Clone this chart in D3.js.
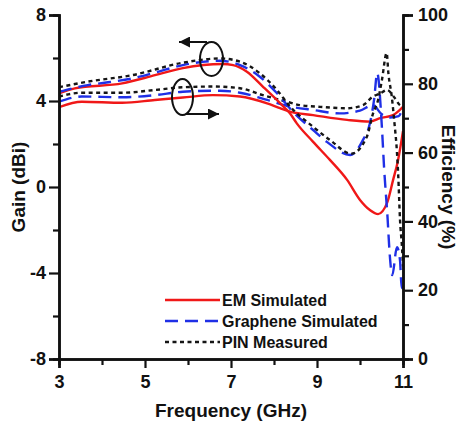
<!DOCTYPE html>
<html>
<head>
<meta charset="utf-8">
<script src="https://cdn.jsdelivr.net/npm/d3@7"></script>
<style>
  html, body { margin: 0; padding: 0; background: #fff; }
  svg { display: block; }
  text { font-family: "Liberation Sans", Arial, sans-serif; font-weight: bold; fill: #111; }
</style>
</head>
<body>
<svg id="chart" width="462" height="426"></svg>
<script>
// Tick values
const freqTicks = [3, 5, 7, 9, 11];
const freqMinor = [4, 6, 8, 10];
const gainTicks = [-8, -4, 0, 4, 8];
const gainMinor = [-6, -2, 2, 6];
const effTicks = [0, 20, 40, 60, 80, 100];
const effMinor = [10, 30, 50, 70, 90];

// Gain (dBi) versus frequency (GHz)
const emGainF  = [3.0, 3.37, 4.47, 5.23, 5.88, 6.8, 7.05, 7.37, 7.74, 8.14, 8.37, 8.53, 8.91, 9.3, 9.7, 10.0, 10.23, 10.42, 10.63, 10.77, 10.88, 11.0];
const emGain   = [4.36, 4.59, 4.82, 5.2, 5.53, 5.72, 5.67, 5.36, 4.67, 3.9, 3.43, 2.96, 2.1, 1.26, 0.33, -0.6, -1.07, -1.26, -0.74, 0.33, 1.2, 2.6];

const grGainF  = [3.0, 3.67, 4.14, 4.7, 5.23, 5.88, 6.74, 7.21, 7.67, 8.07, 8.44, 8.91, 9.23, 9.77, 10.07, 10.23, 10.33, 10.4, 10.51, 10.56, 10.64, 10.69, 10.75, 10.86, 10.93, 10.97, 11.0];
const grGain   = [4.43, 4.74, 4.87, 5.05, 5.32, 5.67, 5.87, 5.67, 5.13, 4.36, 3.5, 2.65, 2.1, 1.49, 2.19, 2.96, 4.1, 5.3, 2.75, 0.9, -1.4, -3.1, -4.1, -2.8, -3.4, -4.7, -4.3];

const pinGainF = [3.0, 3.67, 4.7, 5.88, 6.74, 7.21, 7.67, 8.07, 8.37, 8.91, 9.3, 9.8, 10.16, 10.3, 10.42, 10.51, 10.62, 10.66, 10.74, 10.8, 10.86, 10.89, 10.93, 10.98, 11.0];
const pinGain  = [4.64, 4.9, 5.2, 5.78, 5.98, 5.83, 5.29, 4.51, 3.75, 2.8, 2.19, 1.55, 2.34, 3.4, 4.05, 4.98, 6.23, 5.3, 4.19, 3.0, 1.6, 0.5, -1.5, -2.9, -3.7];

// Radiation efficiency (%) versus frequency (GHz)
const emEffF   = [3.0, 3.53, 4.47, 5.23, 5.88, 6.58, 7.21, 7.84, 8.14, 8.37, 8.91, 9.7, 10.23, 10.47, 10.77, 11.0];
const emEff    = [73.2, 74.8, 74.5, 75.3, 76.0, 76.7, 76.3, 74.3, 72.9, 71.9, 70.9, 69.5, 69.0, 70.0, 70.9, 73.3];

const grEffF   = [3.0, 3.53, 4.47, 5.23, 5.88, 6.74, 7.21, 7.84, 8.3, 8.91, 9.53, 10.0, 10.3, 10.5, 10.7, 10.9, 11.0];
const grEff    = [74.8, 76.3, 76.1, 76.7, 77.7, 78.0, 77.4, 75.3, 73.6, 72.4, 71.4, 72.2, 73.8, 71.2, 70.2, 70.6, 73.3];

const pinEffF  = [3.0, 3.53, 4.47, 5.23, 5.88, 6.58, 7.21, 7.74, 8.3, 8.6, 9.07, 9.7, 10.07, 10.3, 10.47, 10.63, 10.8, 10.93, 11.0];
const pinEff   = [76.3, 77.4, 77.4, 78.2, 79.0, 79.2, 78.7, 76.7, 74.8, 73.8, 73.3, 72.9, 73.8, 76.3, 77.2, 78.2, 76.0, 73.8, 73.5];

const seriesNames = ["EM Simulated", "Graphene Simulated", "PIN Measured"];

// Line styles per series
const styles = [
  { color: "#f01818", dash: null,    width: 2.4 },
  { color: "#1f2fe6", dash: "13,7",  width: 2.4 },
  { color: "#151515", dash: "4,3.5", width: 2.4 }
];

const svg = d3.select("#chart");
const plot = { left: 59, right: 403, top: 15, bottom: 359 };

const x = d3.scaleLinear().domain([3, 11]).range([plot.left, plot.right]);
const yGain = d3.scaleLinear().domain([-8, 8]).range([plot.bottom, plot.top]);
const yEff = d3.scaleLinear().domain([0, 100]).range([plot.bottom, plot.top]);

const defs = svg.append("defs");
defs.append("clipPath").attr("id", "plotClip")
  .append("rect")
  .attr("x", plot.left).attr("y", plot.top - 2)
  .attr("width", plot.right - plot.left).attr("height", plot.bottom - plot.top + 2);

// Curves
const gainSeries = [[emGainF, emGain], [grGainF, grGain], [pinGainF, pinGain]];
const effSeries = [[emEffF, emEff], [grEffF, grEff], [pinEffF, pinEff]];

const lines = svg.append("g").attr("clip-path", "url(#plotClip)");

function drawSeries(list, yScale) {
  list.forEach(([fs, vs], i) => {
    const pts = fs.map((f, k) => [f, vs[k]]);
    const gen = d3.line()
      .x(d => x(d[0]))
      .y(d => yScale(d[1]))
      .curve(d3.curveMonotoneX);
    lines.append("path")
      .attr("d", gen(pts))
      .attr("fill", "none")
      .attr("stroke", styles[i].color)
      .attr("stroke-width", styles[i].width)
      .attr("stroke-dasharray", styles[i].dash)
      .attr("stroke-linejoin", "round");
  });
}
drawSeries(effSeries, yEff);
drawSeries(gainSeries, yGain);

// Axes
function styleAxis(g) {
  g.selectAll(".domain").attr("stroke", "#111").attr("stroke-width", 2.5);
  g.selectAll(".tick line").attr("stroke", "#111").attr("stroke-width", 2.2);
  g.selectAll(".tick text").style("font-size", "18px");
}

const fmtSigned = d => (d < 0 ? "-" + Math.abs(d) : String(d));

svg.append("g").attr("transform", `translate(0,${plot.bottom})`)
  .call(d3.axisBottom(x).tickValues(freqMinor).tickSize(6).tickFormat(""))
  .call(styleAxis);
svg.append("g").attr("transform", `translate(0,${plot.bottom})`)
  .call(d3.axisBottom(x).tickValues(freqTicks).tickSize(9).tickPadding(7).tickFormat(d3.format("d")))
  .call(styleAxis);

svg.append("g").attr("transform", `translate(${plot.left},0)`)
  .call(d3.axisLeft(yGain).tickValues(gainMinor).tickSize(6).tickFormat(""))
  .call(styleAxis);
svg.append("g").attr("transform", `translate(${plot.left},0)`)
  .call(d3.axisLeft(yGain).tickValues(gainTicks).tickSize(10).tickPadding(3).tickFormat(fmtSigned))
  .call(styleAxis);

svg.append("g").attr("transform", `translate(${plot.right},0)`)
  .call(d3.axisRight(yEff).tickValues(effMinor).tickSize(6).tickFormat(""))
  .call(styleAxis);
svg.append("g").attr("transform", `translate(${plot.right},0)`)
  .call(d3.axisRight(yEff).tickValues(effTicks).tickSize(10).tickPadding(5).tickFormat(d3.format("d")))
  .call(styleAxis);

// Axis titles
svg.append("text")
  .attr("x", (plot.left + plot.right) / 2).attr("y", 417)
  .attr("text-anchor", "middle").style("font-size", "19px")
  .text("Frequency (GHz)");

svg.append("text")
  .attr("transform", `translate(25,${(plot.top + plot.bottom) / 2}) rotate(-90)`)
  .attr("text-anchor", "middle").style("font-size", "19px")
  .text("Gain (dBi)");

svg.append("text")
  .attr("transform", `translate(442,${(plot.top + plot.bottom) / 2}) rotate(90)`)
  .attr("text-anchor", "middle").style("font-size", "19px")
  .text("Efficiency (%)");

// Legend
const legend = svg.append("g");
seriesNames.forEach((name, i) => {
  const yy = 300 + i * 21;
  legend.append("line")
    .attr("x1", 165).attr("x2", 220).attr("y1", yy).attr("y2", yy)
    .attr("stroke", styles[i].color)
    .attr("stroke-width", styles[i].width)
    .attr("stroke-dasharray", styles[i].dash);
  legend.append("text")
    .attr("x", 222).attr("y", yy + 6)
    .style("font-size", "16px")
    .text(name);
});

// Axis-assignment markers: ellipse with arrow pointing to the relevant axis
defs.append("marker")
  .attr("id", "arrowHead").attr("viewBox", "0 0 10 10")
  .attr("refX", 10).attr("refY", 5)
  .attr("markerWidth", 11).attr("markerHeight", 11)
  .attr("markerUnits", "userSpaceOnUse")
  .attr("orient", "auto")
  .append("path").attr("d", "M0,0 L10,5 L0,10 Z").attr("fill", "#111");

const notes = svg.append("g").attr("fill", "none").attr("stroke", "#111").attr("stroke-width", 2);
notes.append("ellipse").attr("cx", 211.5).attr("cy", 59).attr("rx", 11.5).attr("ry", 17);
notes.append("line").attr("x1", 207).attr("y1", 42).attr("x2", 179).attr("y2", 42)
  .attr("marker-end", "url(#arrowHead)");
notes.append("ellipse").attr("cx", 182.5).attr("cy", 97).attr("rx", 10.5).attr("ry", 18);
notes.append("line").attr("x1", 186).attr("y1", 114).attr("x2", 219).attr("y2", 114)
  .attr("marker-end", "url(#arrowHead)");
</script>
</body>
</html>
